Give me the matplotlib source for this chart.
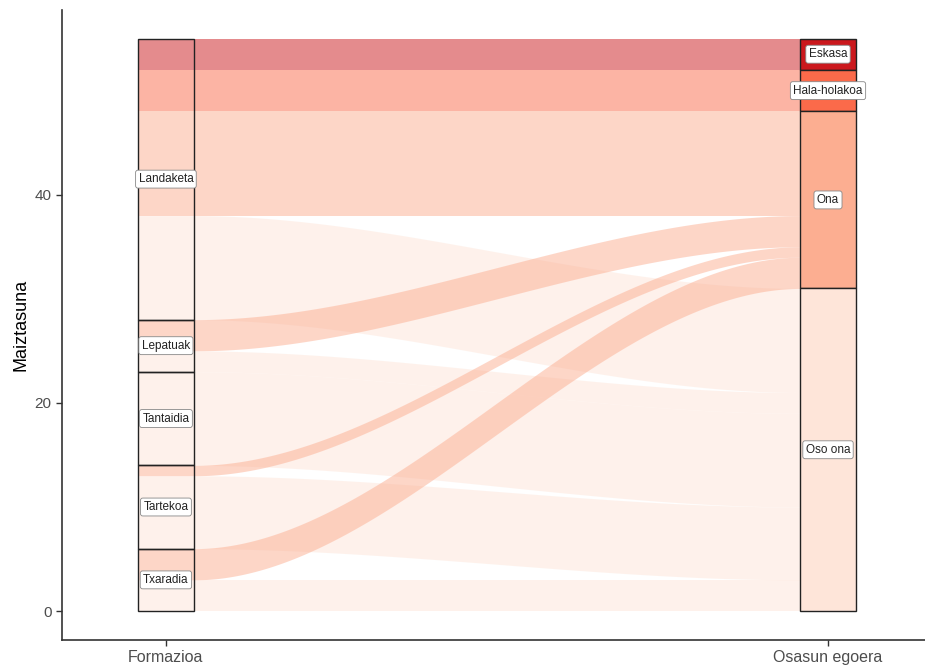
import numpy as np
import matplotlib
matplotlib.use("Agg")
import matplotlib.pyplot as plt

plt.rcParams['font.family'] = ['Liberation Sans', 'DejaVu Sans']

# data: counts of health state (columns) per training group (rows)
formazioa = ["Landaketa", "Lepatuak", "Tantaidia", "Tartekoa", "Txaradia"]
osasuna = ["Eskasa", "Hala-holakoa", "Ona", "Oso ona"]
counts = [
    [3, 4, 10, 10],   # Landaketa
    [0, 0, 3, 2],     # Lepatuak
    [0, 0, 0, 9],     # Tantaidia
    [0, 0, 1, 7],     # Tartekoa
    [0, 0, 3, 3],     # Txaradia
]
reds = ["#CB181D", "#FB6A4A", "#FCAE91", "#FEE5D9"]
axis_labels = ["Formazioa", "Osasun egoera"]
yticks = [0, 20, 40]

counts = np.array(counts)
total = counts.sum()
w = 1 / 12

fig = plt.figure(figsize=(9.25, 6.65), dpi=100)
ax = fig.add_axes([0.067, 0.038, 0.933, 0.947])

# stratum tops (first level on top)
left_sizes = counts.sum(axis=1)
right_sizes = counts.sum(axis=0)
left_tops = total - np.concatenate([[0], np.cumsum(left_sizes)[:-1]])
right_tops = total - np.concatenate([[0], np.cumsum(right_sizes)[:-1]])

# lode positions within each stratum
left_pos = {}
for i in range(len(formazioa)):
    top = left_tops[i]
    for j in range(len(osasuna)):
        if counts[i, j] > 0:
            left_pos[(i, j)] = (top - counts[i, j], top)
            top -= counts[i, j]
right_pos = {}
for j in range(len(osasuna)):
    top = right_tops[j]
    for i in range(len(formazioa)):
        if counts[i, j] > 0:
            right_pos[(i, j)] = (top - counts[i, j], top)
            top -= counts[i, j]

x0, x1 = 1 + w / 2, 2 - w / 2
xs = np.linspace(x0, x1, 200)
t = (xs - x0) / (x1 - x0)
s = 3 * t ** 2 - 2 * t ** 3
for i in range(len(formazioa)):
    for j in range(len(osasuna)):
        if counts[i, j] == 0:
            continue
        lb, lt = left_pos[(i, j)]
        rb, rt = right_pos[(i, j)]
        xx = np.concatenate([[1 - w / 2], xs, [2 + w / 2]])
        lo = np.concatenate([[lb], lb + (rb - lb) * s, [rb]])
        hi = np.concatenate([[lt], lt + (rt - lt) * s, [rt]])
        ax.fill_between(xx, lo, hi, color=reds[j], alpha=0.5, lw=0)

# strata
box = dict(boxstyle="round,pad=0.25,rounding_size=0.2", fc="white", ec="#888888", lw=0.6)
for i, name in enumerate(formazioa):
    top = left_tops[i]
    ax.add_patch(plt.Rectangle((1 - w / 2, top - left_sizes[i]), w, left_sizes[i],
                               fill=False, ec="#222222", lw=1.0))
    ax.text(1, top - left_sizes[i] / 2, name, ha="center", va="center",
            fontsize=8.5, color="#222222", bbox=box)
for j, name in enumerate(osasuna):
    top = right_tops[j]
    ax.add_patch(plt.Rectangle((2 - w / 2, top - right_sizes[j]), w, right_sizes[j],
                               fc=reds[j], ec="#222222", lw=1.0))
    ax.text(2, top - right_sizes[j] / 2, name, ha="center", va="center",
            fontsize=8.5, color="#222222", bbox=box)

ax.set_xlim(1 - 0.157, 2.1465)
ax.set_ylim(-2.75, 57.75)
ax.set_xticks([1, 2])
ax.set_xticklabels(axis_labels, fontsize=11.5, color="#4D4D4D")
ax.set_yticks(yticks)
ax.set_yticklabels([str(v) for v in yticks], fontsize=11, color="#4D4D4D")
ax.tick_params(length=4, color="#333333", width=1)
ax.set_ylabel("Maiztasuna", fontsize=13)
for side in ["top", "right"]:
    ax.spines[side].set_visible(False)
for side in ["left", "bottom"]:
    ax.spines[side].set_color("#333333")
    ax.spines[side].set_linewidth(1.2)

fig.savefig("out.png", dpi=100)
